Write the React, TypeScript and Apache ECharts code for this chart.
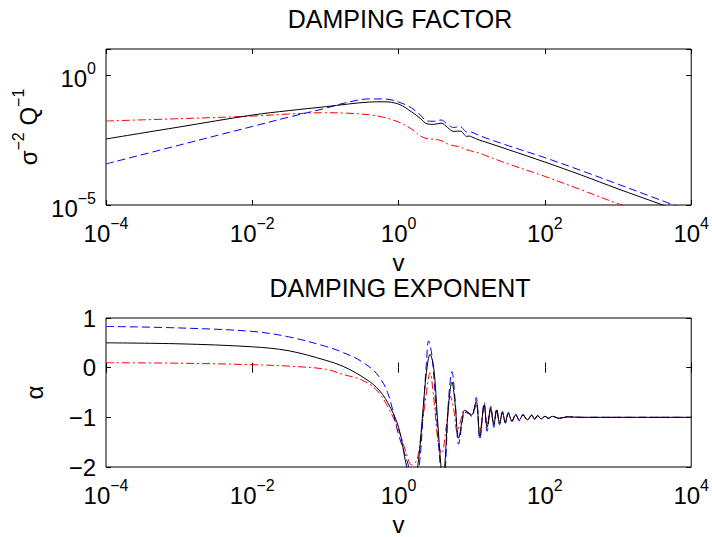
import React, { useEffect, useRef } from "react";
import * as echarts from "echarts";

// ---------- DAMPING FACTOR (top) ----------
const vFactor = [1e-4, 1e-3, 0.01, 0.0316, 0.1, 0.2, 0.398, 0.631, 1, 1.51, 2.0, 2.45, 3.02, 3.8, 4.68, 5.62, 6.31, 7.08, 7.94, 8.51, 9.33, 10, 12.6, 15.5, 31.6, 100, 316, 1000, 3720, 10000];
const factorBlack = [3.47e-3, 1e-2, 0.0288, 0.0427, 0.0603, 0.0759, 0.0912, 0.0933, 0.0759, 0.038, 0.0209, 0.0132, 0.0126, 0.0141, 9.55e-3, 6.76e-3, 6.92e-3, 6.92e-3, 5.01e-3, 4.37e-3, 4.47e-3, 4.17e-3, 3.16e-3, 2.63e-3, 1.35e-3, 4.47e-4, 1.41e-4, 4.17e-5, 1.1e-5, 3.98e-6];
const factorBlue = [3.8e-4, 2.0e-3, 0.0105, 0.024, 0.0525, 0.0891, 0.12, 0.12, 0.0912, 0.0537, 0.0282, 0.017, 0.0166, 0.0186, 0.0126, 9.55e-3, 0.01, 0.01, 7.41e-3, 6.31e-3, 6.61e-3, 6.31e-3, 4.79e-3, 3.8e-3, 1.91e-3, 6.61e-4, 2.09e-4, 6.31e-5, 1.58e-5, 5.62e-6];
const factorRed = [0.017, 0.0209, 0.0263, 0.0316, 0.0355, 0.0339, 0.0295, 0.0234, 0.0155, 8.32e-3, 4.47e-3, 3.55e-3, 3.39e-3, 3.02e-3, 2.24e-3, 1.91e-3, 1.82e-3, 1.7e-3, 1.41e-3, 1.32e-3, 1.26e-3, 1.17e-3, 1.0e-3, 7.94e-4, 3.8e-4, 1.26e-4, 3.8e-5, 1.12e-5, 3.16e-6, 1.26e-6];

// ---------- DAMPING EXPONENT (bottom) ----------
const vAlphaBlack = [1e-4, 1e-3, 0.01, 0.0316, 0.1, 0.178, 0.316, 0.501, 0.708, 1, 1.29, 1.53, 1.82, 2.14, 2.4, 2.69, 3.02, 3.39, 3.8, 4.03, 4.27, 4.79, 5.37, 5.89, 6.61, 7.41, 7.94, 8.91, 10, 11.5, 12.9, 14.8, 16.2, 18.2, 20, 21.9, 24, 26.3, 28.8, 31.6, 35.5, 39.8, 44.7, 50.1, 57.5, 66.1, 72.4, 79.4, 89.1, 100, 112, 126, 158, 200, 316, 10000];
const alphaBlack = [0.5, 0.48, 0.42, 0.34, 0.15, 0.02, -0.18, -0.4, -0.7, -1.2, -2.0, -2.35, -2.0, -0.9, -0.1, 0.27, 0.0, -1.0, -2.0, -2.3, -2.0, -0.8, -0.29, -0.7, -1.42, -1.05, -0.86, -0.9, -0.95, -0.68, -1.38, -0.75, -1.2, -0.82, -1.15, -0.85, -1.12, -0.9, -1.1, -0.92, -1.07, -0.95, -1.06, -0.95, -1.05, -0.96, -1.04, -0.97, -1.03, -0.98, -1.02, -0.98, -1.02, -0.99, -1.0, -1.0];
const vAlphaBlue = [1e-4, 1e-3, 0.01, 0.0316, 0.1, 0.178, 0.316, 0.501, 0.708, 1, 1.38, 1.62, 1.91, 2.19, 2.4, 2.57, 2.88, 3.31, 3.72, 4.03, 4.37, 4.79, 5.37, 5.89, 6.61, 7.41, 7.94, 8.91, 10, 11.5, 12.9, 14.8, 16.2, 18.2, 20, 21.9, 24, 26.3, 28.8, 31.6, 35.5, 39.8, 44.7, 50.1, 57.5, 66.1, 72.4, 79.4, 89.1, 100, 112, 126, 158, 200, 316, 10000];
const alphaBlue = [0.83, 0.8, 0.73, 0.62, 0.43, 0.3, 0.12, -0.12, -0.5, -1.35, -2.0, -2.5, -2.0, -0.8, 0.1, 0.54, 0.2, -1.0, -2.0, -2.5, -2.0, -0.7, -0.08, -0.6, -1.54, -1.1, -0.9, -0.92, -0.98, -0.6, -1.45, -0.7, -1.28, -0.78, -1.2, -0.82, -1.15, -0.88, -1.12, -0.9, -1.09, -0.93, -1.07, -0.94, -1.06, -0.95, -1.04, -0.96, -1.03, -0.98, -1.02, -0.98, -1.02, -0.99, -1.0, -1.0];
const vAlphaRed = [1e-4, 1e-3, 0.01, 0.0316, 0.1, 0.178, 0.316, 0.501, 0.708, 1, 1.26, 1.51, 1.78, 2.04, 2.34, 2.69, 3.02, 3.47, 3.89, 4.47, 5.13, 5.75, 6.31, 7.24, 7.94, 8.91, 10, 11.5, 12.9, 14.8, 16.2, 18.2, 20, 21.9, 24, 26.3, 28.8, 31.6, 35.5, 39.8, 44.7, 50.1, 57.5, 66.1, 72.4, 79.4, 89.1, 100, 112, 126, 158, 200, 316, 10000];
const alphaRed = [0.1, 0.09, 0.06, 0.03, -0.03, -0.14, -0.25, -0.45, -0.78, -1.25, -1.7, -1.96, -1.86, -1.3, -0.63, -0.1, -0.6, -1.5, -1.73, -1.2, -0.58, -0.9, -1.29, -1.0, -0.85, -0.9, -0.97, -0.75, -1.28, -0.8, -1.15, -0.85, -1.12, -0.88, -1.1, -0.92, -1.08, -0.94, -1.07, -0.95, -1.05, -0.96, -1.04, -0.97, -1.03, -0.97, -1.03, -0.98, -1.02, -0.98, -1.02, -0.99, -1.0, -1.0];

// ---------- axes ----------
const vMin = 1e-4;
const vMax = 1e4;
const factorMin = 1e-5;
const factorMax = 10;
const factorLabelTicks = [1e-5, 1];
const alphaMin = -2;
const alphaMax = 1;
const titles = ["DAMPING FACTOR", "DAMPING EXPONENT"];

const FONT = "'Liberation Sans', Arial, Helvetica, sans-serif";
const BLACK = "#000000";
const BLUE = "#0000ff";
const RED = "#ff0000";

const zip = (xs: number[], ys: number[]) => xs.map((x, i) => [x, ys[i]]);
const minus = (s: string) => s.replace("-", "\u2212");

const powRich = {
  b: { fontSize: 24, fontFamily: FONT, color: BLACK, lineHeight: 30, verticalAlign: "bottom" },
  e: { fontSize: 16, fontFamily: FONT, color: BLACK, lineHeight: 12, verticalAlign: "top" },
};
const powLabel = (v: number) => {
  const e = Math.round(Math.log10(v));
  return `{b|10}{e|${minus(String(e))}}`;
};

export default function App() {
  const ref = useRef<HTMLDivElement>(null);
  useEffect(() => {
    if (!ref.current) return;
    const chart = echarts.init(ref.current, undefined, { renderer: "svg" });
    const GL = 106;
    const GR = 19;
    const H = 156;
    const grids = [
      { left: GL, right: GR, top: 49, height: H, show: true, borderColor: BLACK, borderWidth: 1, backgroundColor: "#fff" },
      { left: GL, right: GR, top: 318, height: H, show: true, borderColor: BLACK, borderWidth: 1, backgroundColor: "#fff" },
    ];
    const tick = { show: true, inside: true, length: 5, lineStyle: { color: BLACK, width: 1 } };
    const xBase = (gi: number, pos: string, labels: boolean) => ({
      type: "log",
      logBase: 100,
      gridIndex: gi,
      position: pos,
      min: vMin,
      max: vMax,
      splitNumber: 5,
      axisLine: { show: false },
      axisTick: tick,
      splitLine: { show: false },
      minorTick: { show: false },
      axisLabel: labels
        ? { show: true, margin: 10, formatter: powLabel, rich: powRich }
        : { show: false },
      name: labels ? "v" : "",
      nameLocation: "middle",
      nameGap: 45,
      nameTextStyle: { fontSize: 24, fontFamily: FONT, color: BLACK },
    });
    const yFactor = (pos: string, labels: boolean) => ({
      type: "log",
      logBase: 10,
      gridIndex: 0,
      position: pos,
      min: factorMin,
      max: factorMax,
      splitNumber: 1,
      axisLine: { show: false },
      axisTick: tick,
      splitLine: { show: false },
      minorTick: { show: false },
      axisLabel: labels
        ? {
            show: true,
            margin: 10,
            formatter: (v: number) =>
              factorLabelTicks.some((t) => Math.abs(Math.log10(v) - Math.log10(t)) < 1e-6) ? powLabel(v) : "",
            rich: powRich,
          }
        : { show: false },
      name: labels ? "{n|\u03c3}{s|\u22122}{n| Q}{s|\u22121}" : "",
      nameLocation: "middle",
      nameRotate: 90,
      nameGap: 58,
      nameTextStyle: {
        rich: {
          n: { fontSize: 24, fontFamily: FONT, color: BLACK, lineHeight: 30, verticalAlign: "bottom" },
          s: { fontSize: 16, fontFamily: FONT, color: BLACK, lineHeight: 12, verticalAlign: "top" },
        },
      },
    });
    const yAlpha = (pos: string, labels: boolean) => ({
      type: "value",
      gridIndex: 1,
      position: pos,
      min: alphaMin,
      max: alphaMax,
      interval: 1,
      axisLine: { show: false },
      axisTick: tick,
      splitLine: { show: false },
      axisLabel: labels
        ? { show: true, margin: 10, fontSize: 24, fontFamily: FONT, color: BLACK, formatter: (v: number) => minus(String(v)) }
        : { show: false },
      name: labels ? "\u03b1" : "",
      nameLocation: "middle",
      nameRotate: 90,
      nameGap: 60,
      nameTextStyle: { fontSize: 24, fontFamily: FONT, color: BLACK },
    });
    const dash = [8, 4];
    const dashDot = [8, 3, 2, 3];
    const mk = (data: number[][], color: string, type: any, xi: number, yi: number) => ({
      type: "line",
      data,
      xAxisIndex: xi,
      yAxisIndex: yi,
      showSymbol: false,
      symbol: "none",
      smooth: 0.35,
      clip: true,
      lineStyle: { color, width: 1, type },
    });
    chart.setOption({
      animation: false,
      backgroundColor: "#ffffff",
      grid: grids,
      xAxis: [xBase(0, "bottom", true), xBase(0, "top", false), xBase(1, "bottom", true), xBase(1, "top", false)],
      yAxis: [yFactor("left", true), yFactor("right", false), yAlpha("left", true), yAlpha("right", false)],
      graphic: [
        { type: "text", x: 400, y: 19, style: { text: titles[0], fontSize: 25, fontFamily: FONT, fill: BLACK, textAlign: "center", textVerticalAlign: "middle" } },
        { type: "text", x: 400, y: 288, style: { text: titles[1], fontSize: 25, fontFamily: FONT, fill: BLACK, textAlign: "center", textVerticalAlign: "middle" } },
      ],
      series: [
        mk(zip(vFactor, factorRed), RED, dashDot, 0, 0),
        mk(zip(vFactor, factorBlue), BLUE, dash, 0, 0),
        mk(zip(vFactor, factorBlack), BLACK, "solid", 0, 0),
        mk(zip(vAlphaRed, alphaRed), RED, dashDot, 2, 2),
        mk(zip(vAlphaBlue, alphaBlue), BLUE, dash, 2, 2),
        mk(zip(vAlphaBlack, alphaBlack), BLACK, "solid", 2, 2),
      ],
    });
    return () => chart.dispose();
  }, []);
  return <div ref={ref} style={{ position: "fixed", left: 0, top: 0, width: 712, height: 537 }} />;
}
